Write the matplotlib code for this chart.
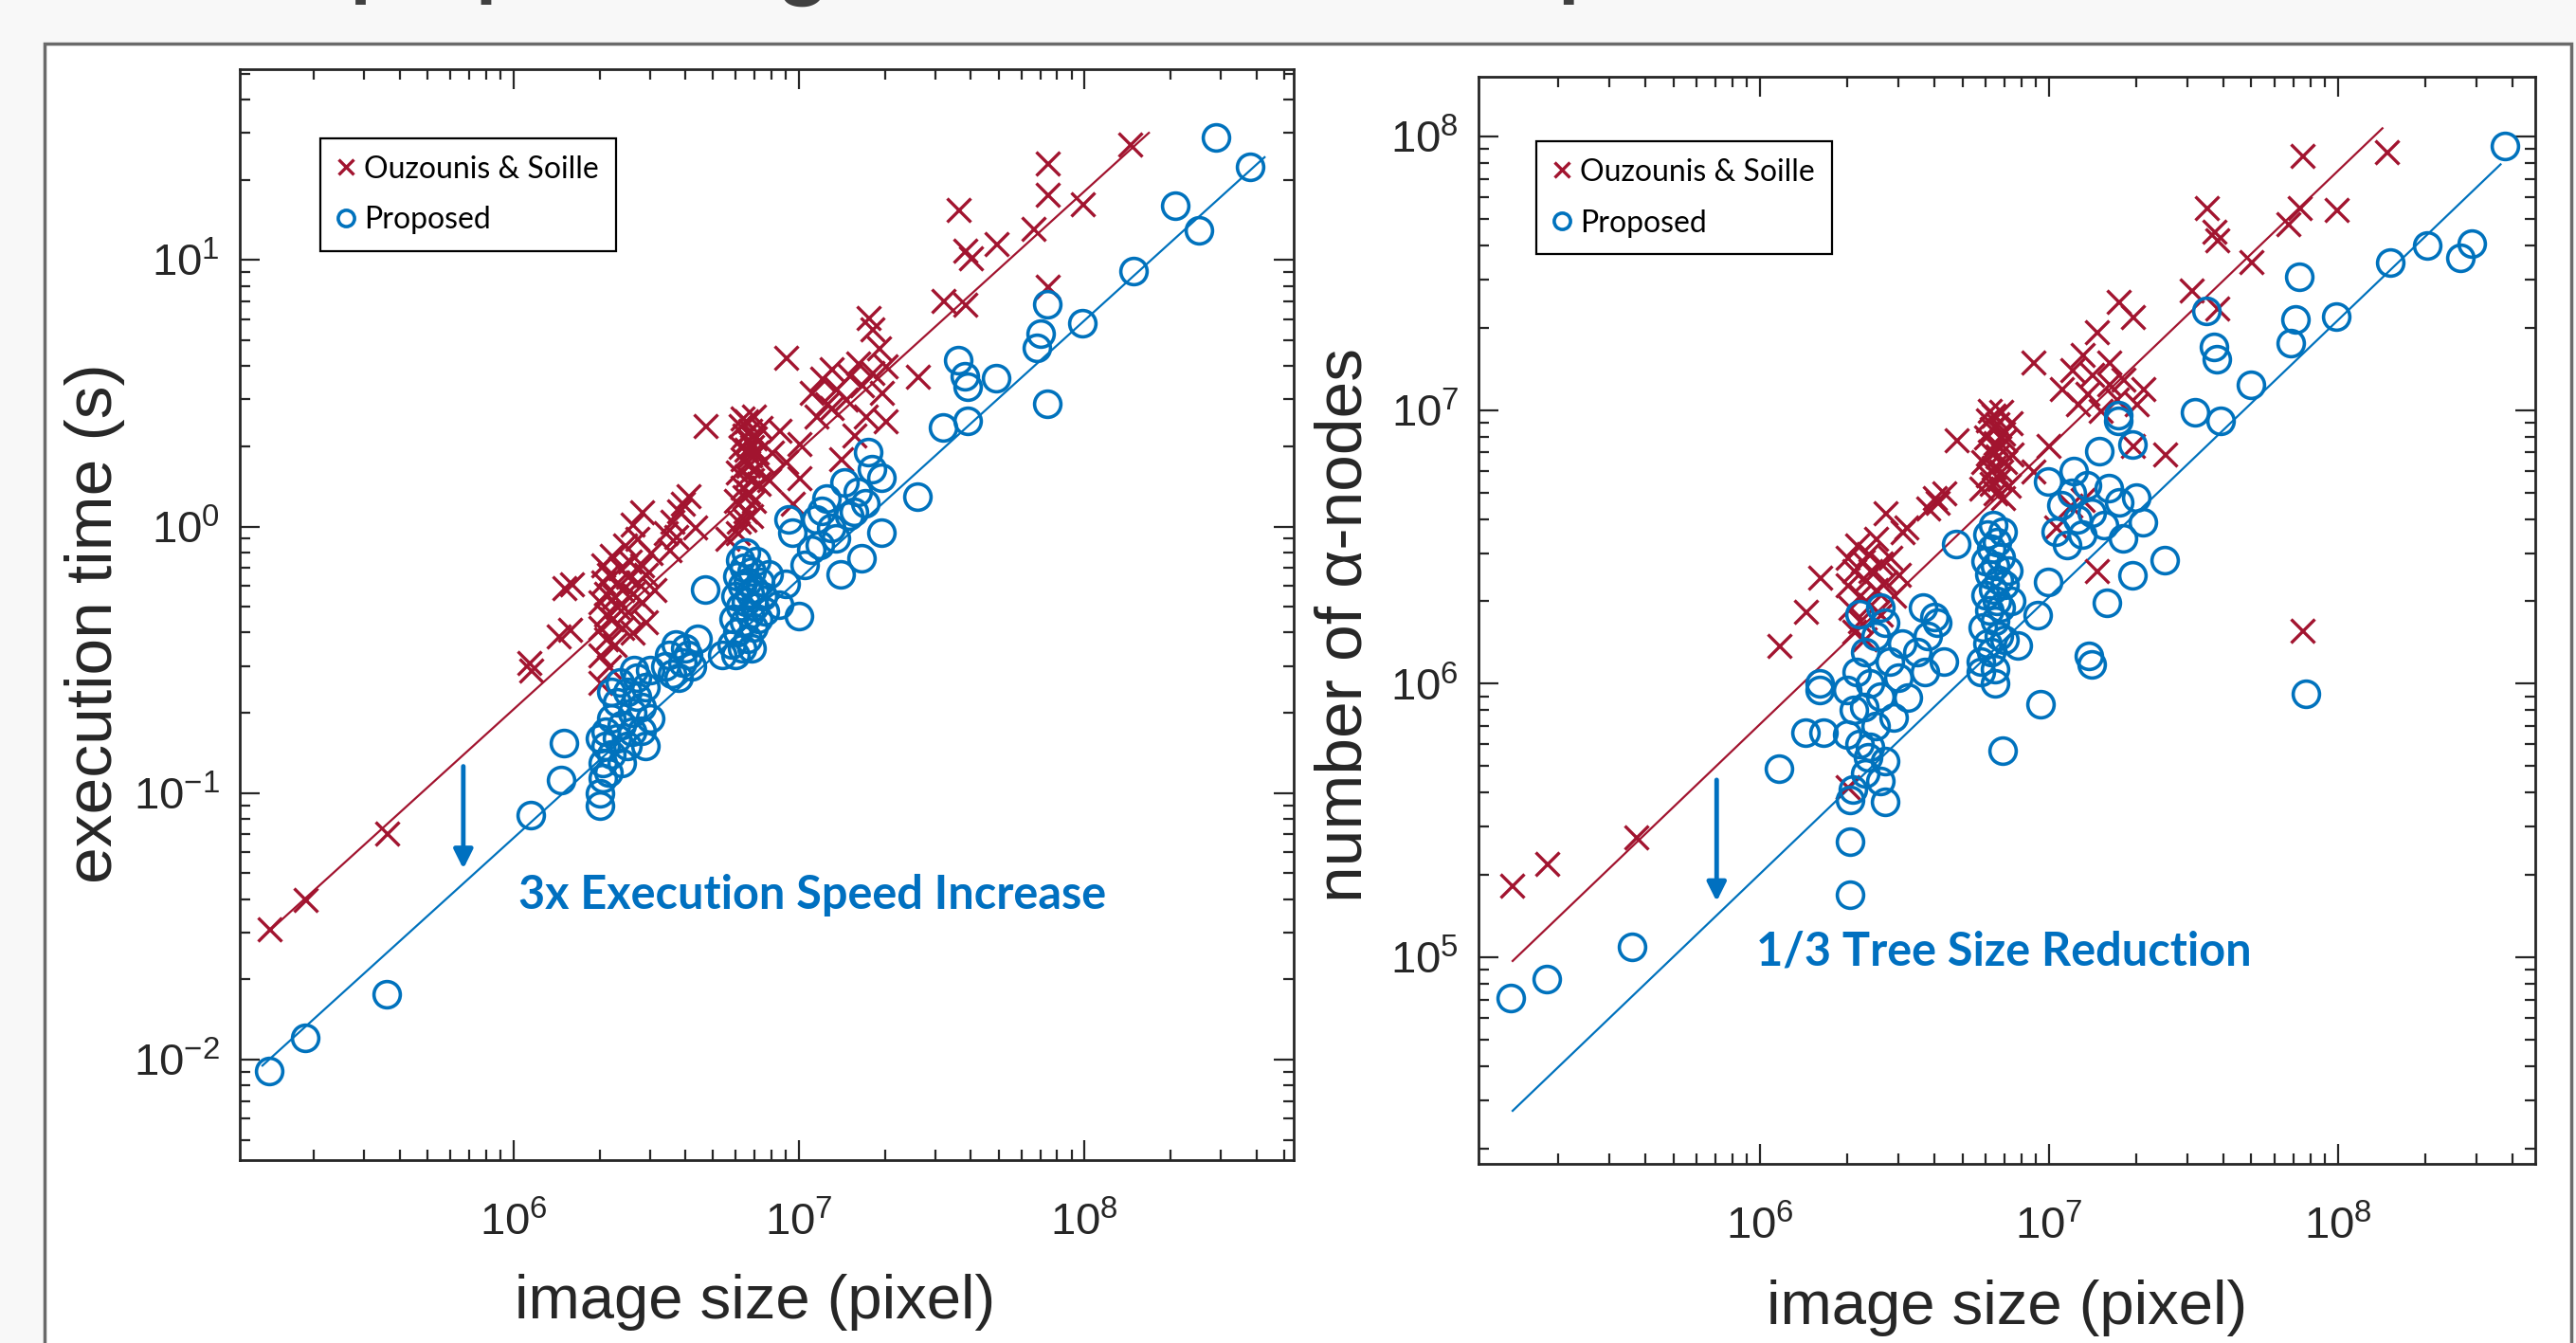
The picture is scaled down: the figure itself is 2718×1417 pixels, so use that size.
import numpy as np
import matplotlib.pyplot as plt
from matplotlib.patches import Rectangle

plt.rcParams['font.family'] = ['Liberation Sans', 'DejaVu Sans']
plt.rcParams['mathtext.default'] = 'regular'

RED = '#a2142f'
BLUE = '#0072bd'
NOTE = '#0070c0'
INK = '#262626'

# image size in Mpixel, time in s
t_os_x = [0.139, 0.186, 0.36,
          1.13, 1.15, 1.43, 1.5, 1.57, 1.59,
          2.0, 2.0, 2.0, 2.0, 2.05, 2.05, 2.1, 2.1, 2.1, 2.15, 2.15, 2.2, 2.2, 2.25, 2.25,
          2.3, 2.3, 2.35, 2.4, 2.4, 2.45, 2.5, 2.5, 2.55, 2.6, 2.6, 2.7, 2.7, 2.8, 2.8,
          2.9, 2.9, 3.0, 3.1, 2.6, 2.8,
          3.4, 3.5, 3.6, 3.7, 3.8, 3.9, 4.1, 4.3, 4.7,
          5.6, 6.1, 6.4,
          6.0, 6.1, 6.2, 6.2, 6.3, 6.3, 6.4, 6.4, 6.5, 6.5, 6.5, 6.6, 6.6, 6.6, 6.7, 6.7,
          6.8, 6.8, 6.9, 6.9, 7.0, 7.0, 7.1, 7.2, 7.3, 6.3, 6.45, 6.75, 6.15, 7.4,
          7.8, 8.0, 8.5,
          9.0, 9.5, 9.0, 10, 10, 11, 11.5, 12, 12.5, 13, 13, 13.5, 14, 14.5, 15, 15.6,
          16, 16.5, 17, 17.5, 18, 18, 19, 19.5, 20, 20,
          26, 32, 36, 38, 38, 40, 49, 66, 74, 74, 74, 98, 144]
t_os_y = [0.031, 0.040, 0.071,
          0.31, 0.29, 0.39, 0.59, 0.41, 0.61,
          0.26, 0.33, 0.42, 0.52, 0.62, 0.72, 0.38, 0.47, 0.56, 0.30, 0.66, 0.45, 0.78, 0.36, 0.55,
          0.62, 0.50, 0.70, 0.42, 0.58, 0.85, 0.48, 0.65, 0.74, 0.40, 0.56, 0.62, 0.90, 0.52, 0.72,
          0.44, 0.66, 0.80, 0.58, 1.02, 1.14,
          0.95, 0.82, 1.05, 0.92, 1.15, 1.22, 1.31, 1.0, 2.4,
          0.9, 0.95, 1.06,
          1.25, 1.6, 2.0, 2.4, 1.4, 1.8, 2.2, 1.3, 1.55, 1.95, 2.5, 1.7, 2.1, 1.35, 1.85, 2.3,
          1.5, 2.0, 1.25, 2.6, 1.65, 2.15, 1.9, 1.45, 2.35, 2.55, 1.15, 1.1, 1.05, 1.75,
          1.5, 1.9, 2.3,
          4.3, 1.22, 1.76, 2.04, 1.52, 3.2, 2.6, 3.6, 2.9, 3.9, 2.8, 3.3, 1.8, 3.0, 3.7, 2.2,
          4.1, 3.4, 2.6, 6.1, 5.5, 3.8, 4.7, 3.2, 2.5, 4.0,
          3.66, 7.05, 15.5, 6.8, 10.9, 10.2, 11.5, 13.1, 23.1, 17.6, 8.0, 16.3, 27.2]

t_p_x = [0.139, 0.186, 0.36,
         1.15, 1.47, 1.5,
         2.0, 2.0, 2.05, 2.05, 2.1, 2.1, 2.15, 2.2, 2.2, 2.3, 2.3, 2.4, 2.4, 2.5, 2.5,
         2.6, 2.6, 2.7, 2.7, 2.8, 2.8, 2.9, 3.0, 3.0, 2.65, 2.35, 2.2, 2.0, 2.9,
         3.4, 3.5, 3.6, 3.7, 3.9, 4.0, 4.2, 4.4, 3.8, 4.1, 4.7,
         5.8, 5.9, 6.0, 6.1, 6.1, 6.2, 6.2, 6.3, 6.3, 6.4, 6.4, 6.5, 6.5, 6.6, 6.6, 6.7, 6.7,
         6.8, 6.8, 6.9, 7.0, 7.0, 7.1, 7.2, 7.3, 7.5, 5.4, 6.0, 7.8, 7.6,
         8.5, 9.0, 9.2, 9.5, 10, 10.5, 11, 11.5, 11.8, 12.5, 13, 13.5, 14, 14.4, 15, 15.6,
         16.5, 17, 17.5, 18, 19.5, 19.5, 12, 16,
         26, 32, 36, 38, 39, 39, 49, 68, 70, 74, 74, 98, 148, 207, 251, 288, 381]
t_p_y = [0.0091, 0.0121, 0.0176,
         0.083, 0.112, 0.154,
         0.09, 0.10, 0.114, 0.13, 0.15, 0.17, 0.12, 0.14, 0.19, 0.16, 0.22, 0.13, 0.18, 0.15, 0.24,
         0.20, 0.17, 0.23, 0.27, 0.172, 0.21, 0.25, 0.19, 0.29, 0.29, 0.26, 0.24, 0.16, 0.15,
         0.30, 0.33, 0.28, 0.36, 0.31, 0.35, 0.30, 0.38, 0.27, 0.33, 0.58,
         0.36, 0.45, 0.55, 0.40, 0.65, 0.50, 0.75, 0.35, 0.60, 0.44, 0.70, 0.52, 0.80, 0.38, 0.62,
         0.47, 0.56, 0.35, 0.68, 0.42, 0.58, 0.50, 0.74, 0.45, 0.62, 0.55, 0.33, 0.33, 0.66, 0.48,
         0.51, 0.61, 1.06, 0.95, 0.46, 0.72, 0.82, 1.06, 0.85, 1.27, 0.99, 0.9, 0.66, 1.47, 1.1,
         1.14, 0.76, 1.22, 1.9, 1.64, 1.52, 0.95, 1.15, 1.35,
         1.29, 2.36, 4.2, 3.66, 3.34, 2.49, 3.6, 4.7, 5.3, 6.8, 2.88, 5.8, 9.1, 16.0, 12.9, 28.8, 22.3]

# number of alpha-nodes, in millions
n_os_x = [0.138, 0.183, 0.37,
          1.16, 1.43, 1.6, 2.0,
          2.0, 2.0, 2.05, 2.1, 2.15, 2.2, 2.2, 2.25, 2.3, 2.35, 2.4, 2.4, 2.5, 2.5, 2.6, 2.6,
          2.7, 2.7, 2.8, 2.9, 3.0, 3.1, 2.28, 2.1, 3.2,
          3.8, 4.0, 4.1, 4.3, 4.75,
          5.8, 5.9, 6.0, 6.1, 6.1, 6.2, 6.3, 6.3, 6.4, 6.4, 6.5, 6.5, 6.6, 6.6, 6.7, 6.7,
          6.8, 6.8, 6.9, 7.0, 7.0, 7.2, 7.3, 7.4, 6.2, 6.9,
          8.8, 8.8, 9.9, 10.5, 11, 11.8, 12, 12.5, 13, 13, 13.5, 14, 14.5, 14.5, 15, 16, 16,
          17, 17.3, 18, 19.4, 19.4, 20, 21, 25,
          31, 35, 37, 38, 38, 50, 67, 73, 75, 98, 147, 75]
n_os_y = [0.183, 0.22, 0.276,
          1.38, 1.84, 2.45, 0.42,
          2.9, 2.3, 1.9, 2.6, 3.2, 2.1, 1.7, 2.8, 2.4, 3.0, 1.95, 2.6, 2.2, 3.4, 2.75, 1.8,
          2.35, 4.2, 2.9, 2.1, 2.5, 3.6, 1.46, 1.55, 3.75,
          4.4, 4.8, 4.6, 5.0, 7.8,
          5.2, 6.5, 8.0, 5.8, 9.2, 7.1, 5.4, 8.6, 6.2, 9.6, 7.6, 5.0, 6.8, 8.9, 5.6, 7.3,
          9.9, 6.0, 8.2, 6.5, 7.8, 5.3, 9.0, 6.9, 10.0, 4.8,
          15, 6.0, 7.4, 3.75, 12, 4.5, 14, 10.5, 4.7, 16, 11.5, 13.5, 19.3, 2.6, 10, 12.5, 15,
          11, 25, 13, 22, 7.4, 10.5, 12, 6.9,
          27.5, 55, 45, 42, 23.5, 35, 48, 55, 85, 54, 88, 1.57]

n_p_x = [0.137, 0.183, 0.36,
         1.16, 1.43, 1.65, 1.6, 1.6,
         2.05, 2.05, 2.05, 2.09, 2.0, 2.1, 2.15, 2.2, 2.28, 2.3, 2.36, 2.4, 2.4, 2.5, 2.5,
         2.6, 2.6, 2.7, 2.7, 2.7, 2.8, 2.9, 3.0, 3.1, 3.25, 2.2, 2.6, 2.0, 2.3,
         3.5, 3.65, 3.8, 4.0, 4.1, 4.3, 3.7, 4.75,
         5.8, 5.9, 6.0, 6.0, 6.1, 6.1, 6.2, 6.2, 6.3, 6.3, 6.4, 6.4, 6.5, 6.5, 6.6, 6.6,
         6.7, 6.7, 6.8, 6.8, 6.9, 7.0, 7.0, 7.2, 7.4, 7.8, 6.5, 5.8, 6.9, 6.5,
         9.1, 9.3, 9.9, 9.9, 10.5, 11, 11.5, 12, 12.1, 12.5, 13, 13.5, 13.7, 14, 14, 14.9,
         15.5, 15.8, 16, 17.3, 17.3, 17.5, 18, 19.4, 19.4, 20, 21, 25,
         32, 35, 37, 38, 39, 50, 68.5, 71, 73, 98, 151, 203, 264, 289, 376, 77]
n_p_y = [0.071, 0.083, 0.109,
         0.49, 0.66, 0.66, 0.95, 1.0,
         0.17, 0.265, 0.375, 0.41, 0.95, 0.8, 1.1, 0.6, 0.82, 1.3, 0.54, 0.59, 1.0, 0.7, 1.5,
         0.44, 0.9, 0.52, 0.37, 1.67, 1.2, 0.75, 1.05, 1.4, 0.89, 1.8, 1.9, 0.65, 0.47,
         1.3, 1.9, 1.5, 1.75, 1.67, 1.2, 1.1, 3.25,
         1.2, 1.6, 2.1, 2.8, 1.4, 3.5, 1.85, 2.5, 3.1, 1.3, 2.2, 3.8, 1.7, 2.7, 2.0, 3.3,
         1.5, 2.4, 2.9, 1.9, 3.6, 2.3, 1.45, 2.6, 2.0, 1.38, 1.13, 1.1, 0.57, 1.0,
         1.78, 0.84, 2.36, 5.5, 3.6, 4.5, 3.2, 5.0, 6.0, 4.0, 3.5, 5.3, 1.26, 1.18, 4.2, 7.1,
         3.8, 1.98, 5.2, 9.1, 9.6, 4.6, 3.4, 7.5, 2.49, 4.8, 3.9, 2.82,
         9.8, 23, 17, 15.3, 9.1, 12.4, 17.6, 21.5, 30.6, 21.9, 34.7, 40, 36, 40.7, 92, 0.92]

# fitted lines (end points), same units
fit_t_os_x, fit_t_os_y = [0.132, 168], [0.0288, 30.0]
fit_t_p_x, fit_t_p_y = [0.132, 427], [0.0095, 24.3]
fit_n_os_x, fit_n_os_y = [0.139, 142], [0.097, 107]
fit_n_p_x, fit_n_p_y = [0.139, 364], [0.0275, 79]

M = 1e6

fig = plt.figure(figsize=(27.18, 14.17), dpi=100, facecolor='#f8f8f8')
fig.add_artist(Rectangle((47/2718, -0.02), (2713-47)/2718, 1.02 - 46/1417,
                         transform=fig.transFigure, facecolor='white',
                         edgecolor='#6a6a6a', lw=2.5, zorder=-5))

# slide title, cut off at the top edge as in the screenshot
fig.text(200/2718, 1 + 10/1417, 'The proposed algorithm in time and space',
         family='Lato', weight='bold', fontsize=63, color='#404040', va='baseline')

ax1 = fig.add_axes([0.0931, 0.1362, 0.4091, 0.8123])
ax2 = fig.add_axes([0.5740, 0.1334, 0.4102, 0.8094])


def style(ax):
    ax.set_xscale('log')
    ax.set_yscale('log')
    ax.tick_params(which='both', direction='in', top=True, right=True,
                   color=INK, labelcolor=INK, width=1.6)
    ax.tick_params(which='major', length=15, labelsize=34)
    ax.tick_params(which='minor', length=8)
    ax.tick_params(axis='x', pad=32)
    ax.tick_params(axis='y', pad=15)
    for s in ax.spines.values():
        s.set_color(INK)
        s.set_linewidth(2)


def scatter(ax, xr, yr, xb, yb, scale):
    ax.plot(np.array(xr) * M, np.array(yr) * scale, ls='none', marker='x', ms=18,
            mew=2.4, color=RED, label='Ouzounis & Soille', zorder=3)
    ax.plot(np.array(xb) * M, np.array(yb) * scale, ls='none', marker='o', ms=20,
            mew=2.6, mfc='none', color=BLUE, label='Proposed', zorder=3)


def legend(ax, x0, y0):
    leg = ax.legend(loc='upper left', bbox_to_anchor=(x0, y0), borderaxespad=0,
                    fancybox=False, edgecolor='black', framealpha=1,
                    prop={'family': 'Lato', 'size': 23}, markerscale=0.62,
                    handlelength=0.6, handletextpad=0.3, labelspacing=0.75,
                    borderpad=0.55)
    leg.get_frame().set_linewidth(1.6)


# execution time
style(ax1)
ax1.plot(np.array(fit_t_os_x) * M, fit_t_os_y, color=RED, lw=1.6)
ax1.plot(np.array(fit_t_p_x) * M, fit_t_p_y, color=BLUE, lw=1.6)
scatter(ax1, t_os_x, t_os_y, t_p_x, t_p_y, 1)
ax1.set_xlim(1.1e5, 5.4e8)
ax1.set_ylim(4.2e-3, 52)
ax1.set_xlabel('image size (pixel)', fontsize=47, color=INK)
ax1.set_ylabel('execution time (s)', fontsize=50, color=INK, va='center')
ax1.xaxis.set_label_coords(0.489, -0.104)
ax1.yaxis.set_label_coords(-0.138, 0.492)
legend(ax1, 0.0764, 0.9366)
ax1.annotate('', xy=(6.67e5, 0.052), xytext=(6.67e5, 0.126),
             arrowprops=dict(arrowstyle='-|>', color=NOTE, lw=3.5,
                             mutation_scale=30, shrinkA=0, shrinkB=0))
ax1.text(1.04e6, 0.0415, '3x Execution Speed Increase', family='Lato',
         weight='bold', fontsize=35, color=NOTE, va='center', ha='left')

# tree size
style(ax2)
ax2.plot(np.array(fit_n_os_x) * M, np.array(fit_n_os_y) * M, color=RED, lw=1.6)
ax2.plot(np.array(fit_n_p_x) * M, np.array(fit_n_p_y) * M, color=BLUE, lw=1.6)
scatter(ax2, n_os_x, n_os_y, n_p_x, n_p_y, M)
ax2.set_xlim(1.06e5, 4.8e8)
ax2.set_ylim(1.76e4, 1.65e8)
ax2.set_xlabel('image size (pixel)', fontsize=47, color=INK)
ax2.set_ylabel('number of α-nodes', fontsize=50, color=INK, va='center')
ax2.xaxis.set_label_coords(0.50, -0.106)
ax2.yaxis.set_label_coords(-0.127, 0.496)
legend(ax2, 0.0547, 0.9407)
ax2.annotate('', xy=(7.06e5, 1.6e5), xytext=(7.06e5, 4.45e5),
             arrowprops=dict(arrowstyle='-|>', color=NOTE, lw=3.5,
                             mutation_scale=30, shrinkA=0, shrinkB=0))
ax2.text(9.7e5, 1.05e5, '1/3 Tree Size Reduction', family='Lato',
         weight='bold', fontsize=35, color=NOTE, va='center', ha='left')

fig.savefig('out.png', dpi=100, facecolor=fig.get_facecolor())
